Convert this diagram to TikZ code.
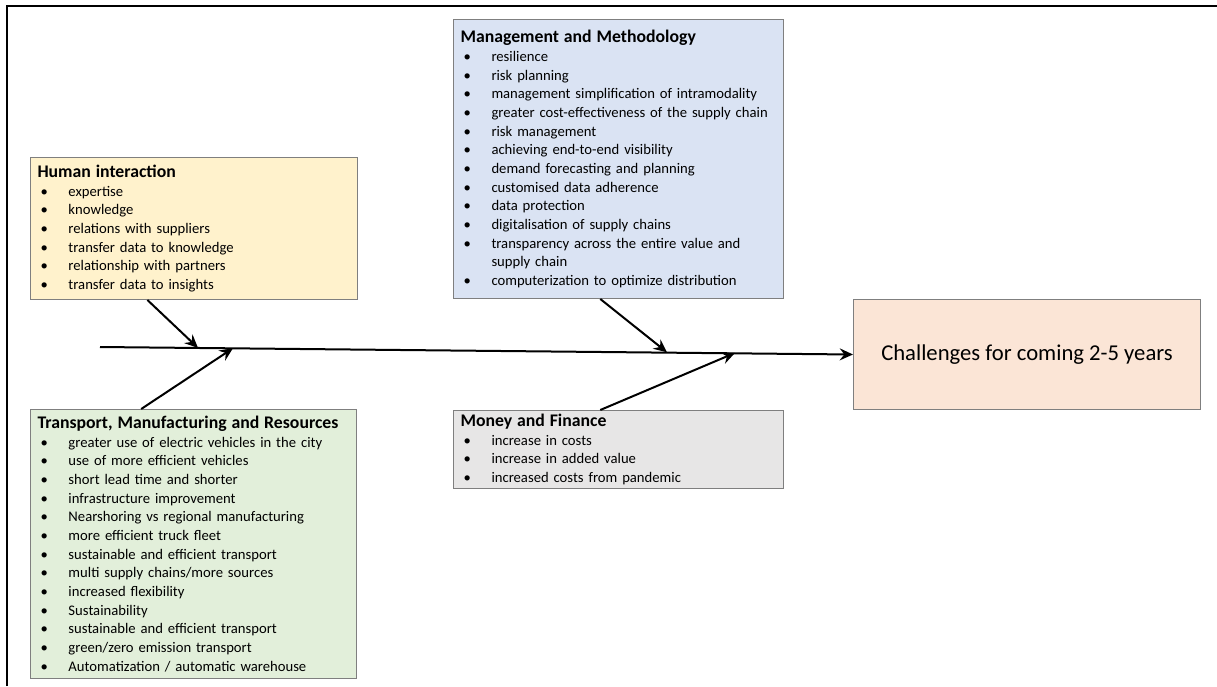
\documentclass[tikz,border=0pt]{standalone}
\usepackage{fontspec}
\setmainfont{Carlito}
\usetikzlibrary{arrows.meta,calc}
\definecolor{humfill}{HTML}{FFF2CC}
\definecolor{trafill}{HTML}{E2EFDA}
\definecolor{manfill}{HTML}{DAE3F3}
\definecolor{monfill}{HTML}{E7E6E6}
\definecolor{chfill}{HTML}{FBE5D6}
\definecolor{boxline}{HTML}{7F7F7F}
\newcommand{\bitem}[1]{\makebox[23.25pt][l]{\hspace{2.25pt}\textbullet}#1}
\newcommand{\bcont}[1]{\hspace{23.25pt}#1}
\newcommand{\cattitle}[1]{{\fontsize{13.3}{14}\selectfont\bfseries #1}}
\begin{document}
\begin{tikzpicture}[x=0.75pt,y=-0.75pt,
  cat/.style={draw=boxline, line width=0.75pt, rectangle, anchor=north west, align=left,
    inner xsep=5.25pt, inner ysep=0pt, font=\fontsize{11}{14}\selectfont},
  arr/.style={line width=1.5pt, -{Stealth[length=10pt,width=9pt,inset=3.5pt]}},
  frame/.style={line width=1.5pt}]
\useasboundingbox (0,0) rectangle (1217,686);
\draw[frame] (6.5,686) -- (6.5,5.5) -- (1217,5.5);

\node[cat, fill=humfill, text width=234.75pt, minimum height=106.5pt] (hum) at (30,157) {%
\cattitle{Human interaction}\\
\bitem{expertise}\\
\bitem{knowledge}\\
\bitem{relations with suppliers}\\
\bitem{transfer data to knowledge}\\
\bitem{relationship with partners}\\
\bitem{transfer data to insights}};

\node[cat, fill=trafill, text width=234pt, minimum height=201.75pt] (tra) at (30,409) {%
\cattitle{Transport, Manufacturing and Resources}\\
\bitem{greater use of electric vehicles in the city}\\
\bitem{use of more efficient vehicles}\\
\bitem{short lead time and shorter}\\
\bitem{infrastructure improvement}\\
\bitem{Nearshoring vs regional manufacturing}\\
\bitem{more efficient truck fleet}\\
\bitem{sustainable and efficient transport}\\
\bitem{multi supply chains/more sources}\\
\bitem{increased flexibility}\\
\bitem{Sustainability}\\
\bitem{sustainable and efficient transport}\\
\bitem{green/zero emission transport}\\
\bitem{Automatization / automatic warehouse}};

\node[cat, fill=manfill, text width=237pt, minimum height=209.25pt] (man) at (453,19) {%
\cattitle{Management and Methodology}\\
\bitem{resilience}\\
\bitem{risk planning}\\
\bitem{management simplification of intramodality}\\
\bitem{greater cost-effectiveness of the supply chain}\\
\bitem{risk management}\\
\bitem{achieving end-to-end visibility}\\
\bitem{demand forecasting and planning}\\
\bitem{customised data adherence}\\
\bitem{data protection}\\
\bitem{digitalisation of supply chains}\\
\bitem{transparency across the entire value and}\\
\bcont{supply chain}\\
\bitem{computerization to optimize distribution}};

\node[cat, fill=monfill, text width=237pt, minimum height=58.5pt] (mon) at (453,410) {%
\cattitle{Money and Finance}\\
\bitem{increase in costs}\\
\bitem{increase in added value}\\
\bitem{increased costs from pandemic}};

\node[draw=boxline, line width=0.75pt, fill=chfill, rectangle, anchor=north west,
  minimum width=260.25pt, minimum height=82.5pt, inner sep=0pt,
  font=\fontsize{17}{20}\selectfont] (ch) at (853,299) {Challenges for coming 2-5 years};

\coordinate (tail) at (100,347);
\coordinate (j1) at (198,347.9);
\coordinate (j2) at (233,348.2);
\coordinate (j3) at (667,352.3);
\coordinate (j4) at (735,352.9);

\draw[arr] (tail) -- (ch.west);
\draw[arr] ($(hum.south west)!0.358!(hum.south east)$) -- (j1);
\draw[arr] ($(tra.north west)!0.34!(tra.north east)$) -- (j2);
\draw[arr] ($(man.south west)!0.445!(man.south east)$) -- (j3);
\draw[arr] ($(mon.north west)!0.445!(mon.north east)$) -- (j4);
\end{tikzpicture}
\end{document}
